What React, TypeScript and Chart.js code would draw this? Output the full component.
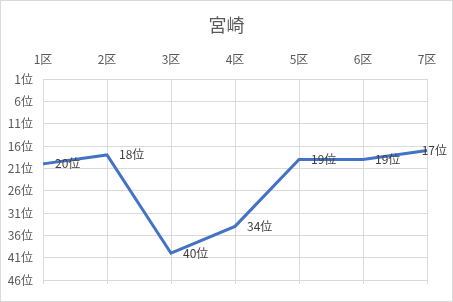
import React, { useEffect, useRef } from "react";
import { Chart, registerables } from "chart.js";

Chart.register(...registerables);

const categories = ["1区", "2区", "3区", "4区", "5区", "6区", "7区"];
const ranks = [20, 18, 40, 34, 19, 19, 17];
const rankTicks = [1, 6, 11, 16, 21, 26, 31, 36, 41, 46];
const chartTitle = "宮崎";

const FONT = '"Noto Sans CJK JP", "Noto Sans", sans-serif';

const extrasPlugin = {
  id: "extras",
  beforeDraw(chart: any) {
    const { ctx, width, height } = chart;
    ctx.save();
    ctx.fillStyle = "#ffffff";
    ctx.fillRect(0, 0, width, height);
    ctx.restore();
  },
  afterDraw(chart: any) {
    const { ctx, width, height, chartArea } = chart;
    const xs = chart.scales.x;
    ctx.save();
    // title centred on the whole chart
    ctx.font = `18px ${FONT}`;
    ctx.fillStyle = "#595959";
    ctx.textAlign = "center";
    ctx.textBaseline = "middle";
    ctx.fillText(chartTitle, width / 2, 25);
    // bottom tick extensions
    ctx.strokeStyle = "#d9d9d9";
    ctx.lineWidth = 1;
    categories.forEach((_, i) => {
      const x = Math.round(xs.getPixelForValue(i)) + 0.5;
      ctx.beginPath();
      ctx.moveTo(x, chartArea.bottom);
      ctx.lineTo(x, chartArea.bottom + 4);
      ctx.stroke();
    });
    // border
    ctx.strokeRect(0.5, 0.5, width - 1, height - 1);
    // data labels
    const meta = chart.getDatasetMeta(0);
    ctx.font = `12px ${FONT}`;
    ctx.fillStyle = "#404040";
    ctx.textAlign = "left";
    ctx.textBaseline = "middle";
    meta.data.forEach((pt: any, i: number) => {
      const label = `${ranks[i]}位`;
      const w = ctx.measureText(label).width;
      let x = pt.x + 12;
      if (x + w > width - 6) x = width - 6 - w;
      ctx.fillText(label, x, pt.y);
    });
    ctx.restore();
  },
};

export default function App() {
  const ref = useRef<HTMLCanvasElement>(null);
  useEffect(() => {
    if (!ref.current) return;
    const chart = new Chart(ref.current, {
      type: "line",
      data: {
        labels: categories,
        datasets: [
          {
            data: ranks,
            borderColor: "#4472C4",
            borderWidth: 3,
            pointRadius: 0,
            tension: 0,
            fill: false,
          },
        ],
      },
      options: {
        responsive: false,
        animation: false,
        devicePixelRatio: 1,
        layout: { padding: { left: 0, right: 26, top: 35.6, bottom: 22 } },
        plugins: {
          legend: { display: false },
          tooltip: { enabled: false },
          title: { display: false },
        },
        scales: {
          x: {
            type: "category",
            position: "top",
            offset: false,
            grid: { color: "#d9d9d9", drawTicks: false },
            border: { display: false },
            ticks: {
              color: "#595959",
              font: { family: FONT, size: 12 },
              padding: 12,
              maxRotation: 0,
              autoSkip: false,
            },
            afterFit(scale: any) {
              scale.height = 43.4;
            },
          },
          y: {
            type: "linear",
            reverse: true,
            min: 1,
            max: 46,
            grid: { color: "#d9d9d9", drawTicks: false },
            border: { display: false },
            afterBuildTicks(scale: any) {
              scale.ticks = rankTicks.map((v) => ({ value: v }));
            },
            ticks: {
              color: "#595959",
              font: { family: FONT, size: 12 },
              padding: 10,
              callback: (v: any) => `${v}位`,
            },
            afterFit(scale: any) {
              scale.width = 43;
            },
          },
        },
      },
      plugins: [extrasPlugin],
    });
    return () => chart.destroy();
  }, []);
  return (
    <div style={{ position: "fixed", left: 0, top: 0, width: 453, height: 302 }}>
      <canvas ref={ref} width={453} height={302} style={{ display: "block" }} />
    </div>
  );
}
